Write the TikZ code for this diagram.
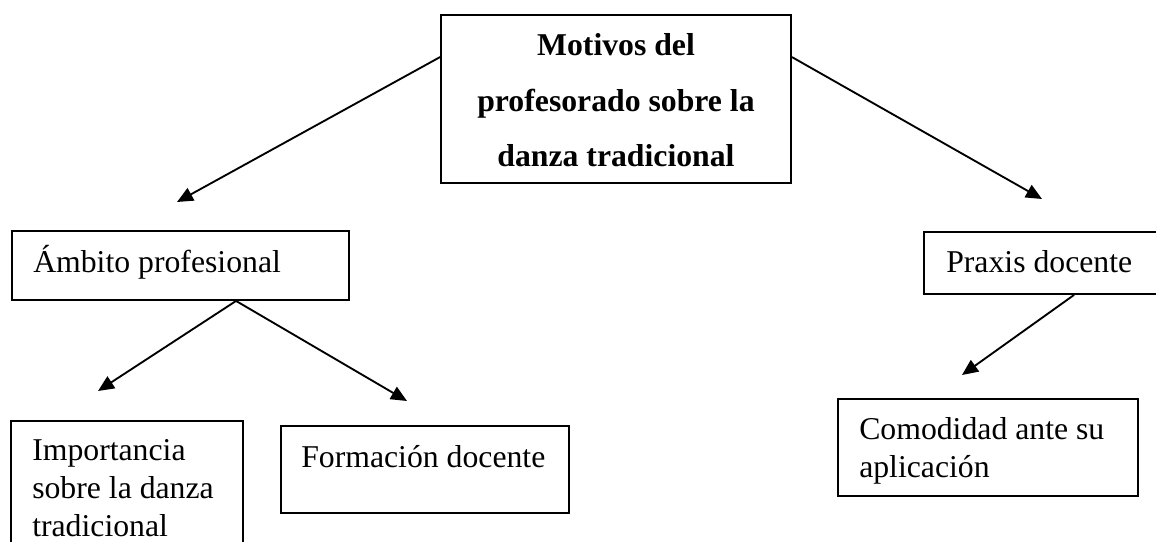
\documentclass[tikz,border=0pt]{standalone}
\usepackage{fontspec}
\setmainfont{Liberation Serif}
\usetikzlibrary{arrows.meta,fit,calc}
\begin{document}
\begin{tikzpicture}[x=0.75pt,y=-0.75pt,
  box/.style={draw,line width=1.4pt,inner sep=0pt},
  lbl/.style={inner sep=0pt,anchor=base west,font=\fontsize{23.8pt}{28.5pt}\selectfont,align=left},
  ttl/.style={inner sep=0pt,anchor=base,font=\fontsize{23.8pt}{41.25pt}\selectfont\bfseries,align=center},
  arr/.style={line width=1.4pt,-{Triangle[length=12pt,width=10.5pt]}}]
\useasboundingbox (0,0) rectangle (1156,542);
\clip (0,0) rectangle (1156,542);
% boxes
\node[box,fit={(441,15) (791,183)}] (top) {};
\node[box,fit={(12,231) (349,300)}] (amb) {};
\node[box,fit={(924,232) (1180,294)}] (prax) {};
\node[box,fit={(11,421) (243,570)}] (imp) {};
\node[box,fit={(281,426) (569,513)}] (form) {};
\node[box,fit={(838,399) (1138,496)}] (comod) {};
% texts (base anchor = baseline of the last line)
\node[ttl] (t1) at (616,166) {Motivos del\\profesorado sobre la\\danza tradicional};
\node[lbl] (tamb) at (33,272) {Ámbito profesional};
\node[lbl] (tprax) at (946,272) {Praxis docente};
\node[lbl,font=\fontsize{23.8pt}{28.2pt}\selectfont] (timp) at (32,536) {Importancia\\sobre la danza\\tradicional};
\node[lbl] (tform) at (301,467) {Formación docente};
\node[lbl] (tcomod) at (859,477) {Comodidad ante su\\aplicación};
% connector ends
\coordinate (tipA) at (177,202);
\coordinate (tipB) at (1042,199);
\coordinate (tipC) at (98,391);
\coordinate (tipD) at (407,401);
\coordinate (tipE) at (962,375);
% connectors
\draw[arr] ([yshift=-32.25pt]top.north west) -- (tipA);
\draw[arr] ([yshift=-32.25pt]top.north east) -- (tipB);
\draw[arr] ([xshift=168.75pt]amb.south west) -- (tipC);
\draw[arr] ([xshift=168.75pt]amb.south west) -- (tipD);
\draw[arr] ([xshift=113.25pt]prax.south west) -- (tipE);
\end{tikzpicture}
\end{document}
